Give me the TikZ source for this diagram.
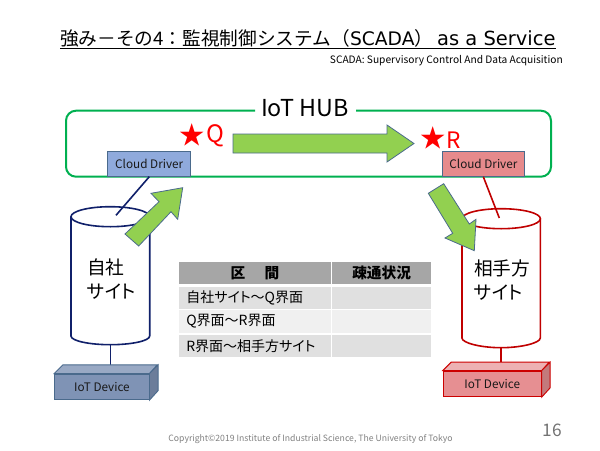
\documentclass[tikz,border=0pt]{standalone}
\usepackage{fontspec}
\setmainfont[RawFeature=+palt]{Noto Sans CJK JP}
\newfontfamily\fullface{Noto Sans CJK JP}
\newfontfamily\wideface{DejaVu Sans}
\usetikzlibrary{positioning}
\definecolor{hubgreen}{HTML}{00B050}
\definecolor{arrowgreen}{HTML}{92D050}
\definecolor{arrowline}{HTML}{4A6A8C}
\definecolor{navyline}{HTML}{10206A}
\definecolor{redline}{HTML}{C00000}
\definecolor{bluefill}{HTML}{8FAADC}
\definecolor{redfill}{HTML}{E68A8C}
\definecolor{devblue}{HTML}{7F93B5}
\definecolor{devred}{HTML}{E68F92}
\tikzset{
  bigarrow/.style={draw=arrowline,fill=arrowgreen,line width=0.6pt,line join=miter},
  driverbox/.style={draw=arrowline,line width=0.7pt,minimum width=62pt,minimum height=18.8pt,inner sep=0pt,font=\fontsize{8.8}{10}\selectfont,text=black!90},
  devicebox/.style={line width=0.7pt,minimum width=70.7pt,minimum height=19.2pt,inner sep=0pt,font=\fontsize{8.8}{10}\selectfont,text=black!90},
  sitelabel/.style={anchor=west,inner sep=0pt,align=left,font=\fontsize{14}{18}\selectfont},
  headcell/.style={fill=black!35,inner sep=0pt,font=\fontsize{11}{13}\bfseries\selectfont},
  rowcell/.style={inner sep=0pt,text width=109pt,minimum height=16.6pt,align=left,font=\fontsize{10.5}{12}\selectfont},
  statecell/.style={inner sep=0pt,minimum width=74.5pt,minimum height=16.6pt},
}
\begin{document}
\begin{tikzpicture}[x=0.75pt,y=0.75pt,yscale=-1,xscale=1]
    \useasboundingbox (0,0) rectangle (600,450);

    % Text Node
    \node (title) [anchor=base west,inner sep=0pt,font=\fontsize{14}{18}\selectfont] at (60,45) {\underline{\fullface 強み－その4：監視制御システム（{\wideface SCADA}）\hspace{3pt}{\wideface\fontsize{14.6}{18}\selectfont as a Service}}};
    % Text Node
    \node (subtitle) [anchor=east,inner sep=0pt,font=\fontsize{7.65}{9}\selectfont] at (563,61) {SCADA: Supervisory Control And Data Acquisition};

    %Shape: hub frame
    \draw [hubgreen,line width=1.5pt,rounded corners=7.5pt] (255,110.7) -- (66,110.7) -- (66,176.7) -- (551,176.7) -- (551,110.7) -- (356,110.7);
    % Text Node
    \node (hub) [inner sep=0pt,font=\fontsize{17.5}{20}\selectfont] at (305,108) {IoT HUB};

    % Text Node
    \node (starQ) [inner sep=0pt,red,font=\fontsize{19}{20}\selectfont] at (192,135) {★};
    \node (labQ) [inner sep=0pt,red,font=\fontsize{18}{20}\selectfont] at (215,136) {Q};
    \node (starR) [inner sep=0pt,red,font=\fontsize{19}{20}\selectfont] at (433,138) {★};
    \node (labR) [inner sep=0pt,red,font=\fontsize{17}{20}\selectfont] at (454,140) {R};

    %Shape: drivers
    \node (driverL) [driverbox,fill=bluefill] at (149.2,163.6) {Cloud Driver};
    \node (driverR) [driverbox,fill=redfill] at (483.4,163.6) {Cloud Driver};

    %Shape: site cylinders
    \draw [navyline,line width=1.2pt,fill=white] (71,216.7) -- (71,336) .. controls (71,341) and (90,344.7) .. (110.3,344.7) .. controls (131,344.7) and (149.7,341) .. (149.7,336) -- (149.7,216.7);
    \draw [navyline,line width=1.2pt] (110.3,216.7) ellipse (39.3 and 10);
    \draw [redline,line width=1.2pt,fill=white] (462,218.7) -- (462,338) .. controls (462,343) and (481,347.7) .. (501,347.7) .. controls (521,347.7) and (540.3,343) .. (540.3,338) -- (540.3,218.7);
    \draw [redline,line width=1.2pt] (501.2,218.7) ellipse (39.2 and 10);
    \coordinate (siteLtop) at (116,215.3);
    \coordinate (siteRtop) at (499.3,218);
    \coordinate (siteLbot) at (110.3,344.7);
    \coordinate (siteRbot) at (501,347.7);
    \coordinate (devLtop) at (110.3,365.3);
    \coordinate (devRtop) at (501,362.5);

    % Text Node
    \node (siteL) [sitelabel] at (87,279) {{\fullface 自社}\\サイト};
    \node (siteR) [sitelabel] at (474,280) {{\fullface 相手方}\\サイト};

    %Shape: connectors
    \draw [navyline,line width=1.2pt] (149.3,176.7) -- (siteLtop);
    \draw [redline,line width=1.2pt] (483.3,176.7) -- (siteRtop);
    \draw [navyline,line width=1.2pt] (siteLbot) -- (devLtop);
    \draw [redline,line width=1.2pt] (siteRbot) -- (devRtop);

    %Shape: green arrows
    \draw [bigarrow] (233,134) -- (387,134) -- (387,125) -- (414,143.5) -- (387,162) -- (387,153) -- (233,153) -- cycle;
    \draw [bigarrow] (125,234) -- (159,201.7) -- (151,193.3) -- (182.7,187.7) -- (177.7,219.3) -- (171,211.7) -- (138.7,246) -- cycle;
    \draw [bigarrow] (428.3,193.3) -- (443.7,183.7) -- (469.3,224) -- (476,219.3) -- (474.3,250.7) -- (445,238) -- (452.7,233.3) -- cycle;

    %Shape: devices
    \node (devL) [devicebox,draw=arrowline,fill=devblue] at (101.9,386.8) {IoT Device};
    \draw [arrowline,line width=0.7pt,fill=devblue!80] (devL.north west) -- ++(8.7,-8.7) -- ++(94.3,0) -- (devL.north east) -- cycle;
    \draw [arrowline,line width=0.7pt,fill=devblue!85!black] (devL.north east) -- ++(8.7,-8.7) -- ++(0,25.7) -- (devL.south east) -- cycle;
    \node (devR) [devicebox,draw=red!80!black,fill=devred,minimum width=73.5pt] at (492.3,383.8) {IoT Device};
    \draw [red!80!black,line width=0.7pt,fill=devred!70] (devR.north west) -- ++(8.4,-8.4) -- ++(98,0) -- (devR.north east) -- cycle;
    \draw [red!80!black,line width=0.7pt,fill=devred!85!black] (devR.north east) -- ++(8.4,-8.4) -- ++(0,25.7) -- (devR.south east) -- cycle;

    %Shape: table
    \node (headA) [headcell,minimum width=113.5pt,minimum height=16.3pt] at (255,273.2) {区\hspace{14.5pt}間};
    \node (headB) [headcell,minimum width=74.5pt,minimum height=16.3pt] at (381.6,273.2) {疎通状況};
    \node (rowA) [rowcell,fill=black!12,minimum width=113.5pt] at (255,298) {\hspace{3pt}自社サイト～Q界面};
    \node (rowB) [rowcell,fill=black!6,minimum width=113.5pt] at (255,321.5) {\hspace{3pt}Q界面～R界面};
    \node (rowC) [rowcell,fill=black!12,minimum width=113.5pt] at (255,345.7) {\hspace{3pt}R界面～相手方サイト};
    \node (stateA) [statecell,fill=black!12] at (381.6,298) {};
    \node (stateB) [statecell,fill=black!6] at (381.6,321.5) {};
    \node (stateC) [statecell,fill=black!12] at (381.6,345.7) {};

    % Text Node
    \node (copy) [inner sep=0pt,text=black!50,font=\fontsize{6.5}{8}\selectfont] at (310.5,439) {Copyright©2019 Institute of Industrial Science, The University of Tokyo};
    \node (page) [inner sep=0pt,text=black!55,font=\fontsize{13}{15}\selectfont] at (552.5,430) {16};
\end{tikzpicture}
\end{document}
